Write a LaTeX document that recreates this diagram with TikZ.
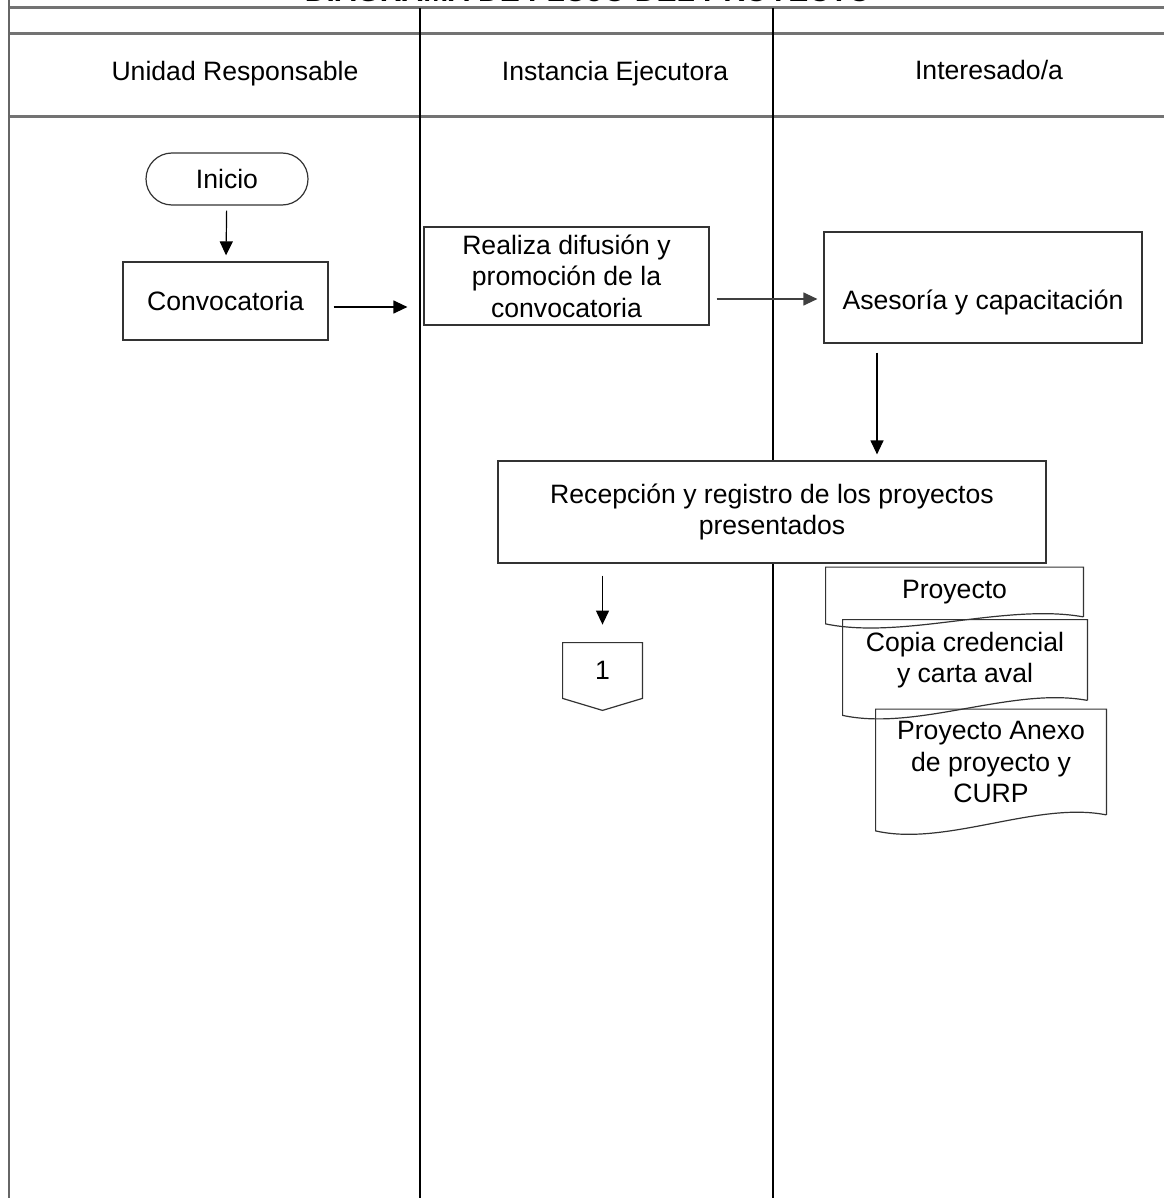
\documentclass[tikz,border=0pt]{standalone}
\usepackage{fontspec}
\setmainfont{Liberation Sans}
\usetikzlibrary{arrows.meta,calc}

\tikzset{
    caja/.style={draw=black!80, line width=0.6pt, fill=white, align=center, inner sep=2pt},
    doc/.style={fill=white, align=center, inner sep=2pt},
    marco/.style={draw=black!80, line width=0.6pt},
    flecha/.style={-{Triangle[length=7pt,width=6.5pt]}, line width=0.6pt},
    carril/.style={line width=0.8pt},
    cabecera/.style={black!55, line width=1.5pt}
}

% Documento con borde ondulado
\newcommand{\docshape}[3]{%
    \draw[marco] (#1.south east) -- (#1.north east) -- (#1.north west) -- ([yshift=-#3]#1.south west)
        .. controls +(#2,16) and +(-#2,-14) .. (#1.south east);
}

\begin{document}
\begin{tikzpicture}[x=0.5pt, y=-0.5pt, font=\fontsize{13.3}{15.8}\selectfont]
        \useasboundingbox (0,0) rectangle (1164,1198);

        % Titulo
        \node[font=\bfseries\fontsize{15}{18}\selectfont, anchor=base] (titulo) at (588,2) {DIAGRAMA DE FLUJO DEL PROYECTO};

        % Carriles
        \draw[cabecera] (9,8) -- (1164,8);
        \draw[cabecera] (9,34) -- (1164,34);
        \draw[cabecera] (9,117) -- (1164,117);
        \draw[black!60, line width=1pt] (9,0) -- (9,1198);
        \draw[carril] (420,8) -- (420,1198);
        \draw[carril] (773,8) -- (773,1198);

        % Cabeceras
        \node[anchor=base] (unidad) at (235,81) {Unidad Responsable};
        \node[anchor=base] (instancia) at (615,81) {Instancia Ejecutora};
        \node[anchor=base] (interesado) at (989,80) {Interesado/a};

        % Pasos
        \node[caja, rounded corners=13pt, minimum width=81pt, minimum height=26pt] (inicio) at (227,179) {Inicio};
        \node[caja, minimum width=102.5pt, minimum height=39pt] (conv) at (225.5,301) {Convocatoria};
        \node[caja, minimum width=142.5pt, minimum height=49pt] (realiza) at (566.5,276) {Realiza difusión y\\promoción de la\\convocatoria};
        \node[caja, minimum width=159pt, minimum height=55.5pt, text height=22pt, text depth=0pt] (ases) at (983,287.5) {Asesoría y capacitación};
        \node[caja, minimum width=274pt, minimum height=51pt] (recep) at (772,512) {Recepción y registro de los proyectos\\presentados};

        % Conector de pagina
        \node[fill=white, minimum width=39.5pt, minimum height=27.5pt] (uno) at (602.5,670.5) {1};
        \draw[marco] (uno.north west) -- (uno.north east) -- (uno.south east) -- ($(uno.south)+(0,12)$) -- (uno.south west) -- cycle;

        % Documentos
        \node[doc, minimum width=115pt, minimum height=52.5pt] (anexo) at (991,762) {Proyecto Anexo\\de proyecto y\\CURP};
        \docshape{anexo}{70}{8pt}
        \node[doc, minimum width=122pt, minimum height=40pt] (copia) at (965,660) {Copia credencial\\y carta aval};
        \docshape{copia}{75}{7.5pt}
        \node[doc, minimum width=128.5pt, minimum height=24.5pt] (proy) at (954.5,592) {Proyecto};
        \docshape{proy}{77}{3.5pt}

        % Flechas
        \draw[flecha, shorten <=2.5pt, shorten >=3pt] (inicio) -- (conv);
        \draw[flecha, shorten <=2.5pt, shorten >=8pt] ($(conv.east)+(0,6)$) -- ($(conv.east -| realiza.west)+(0,6)$);
        \draw[flecha, black!75, shorten <=3.5pt, shorten >=3pt] ($(realiza.east)+(0,23)$) -- ($(ases.west)+(0,11.5)$);
        \draw[flecha, shorten <=4.5pt, shorten >=3pt] ([xshift=-53pt]ases.south) -- ([xshift=-53pt]ases.south |- recep.north);
        \draw[flecha, shorten <=6pt, shorten >=9pt] (uno.north |- recep.south) -- (uno.north);
\end{tikzpicture}
\end{document}
